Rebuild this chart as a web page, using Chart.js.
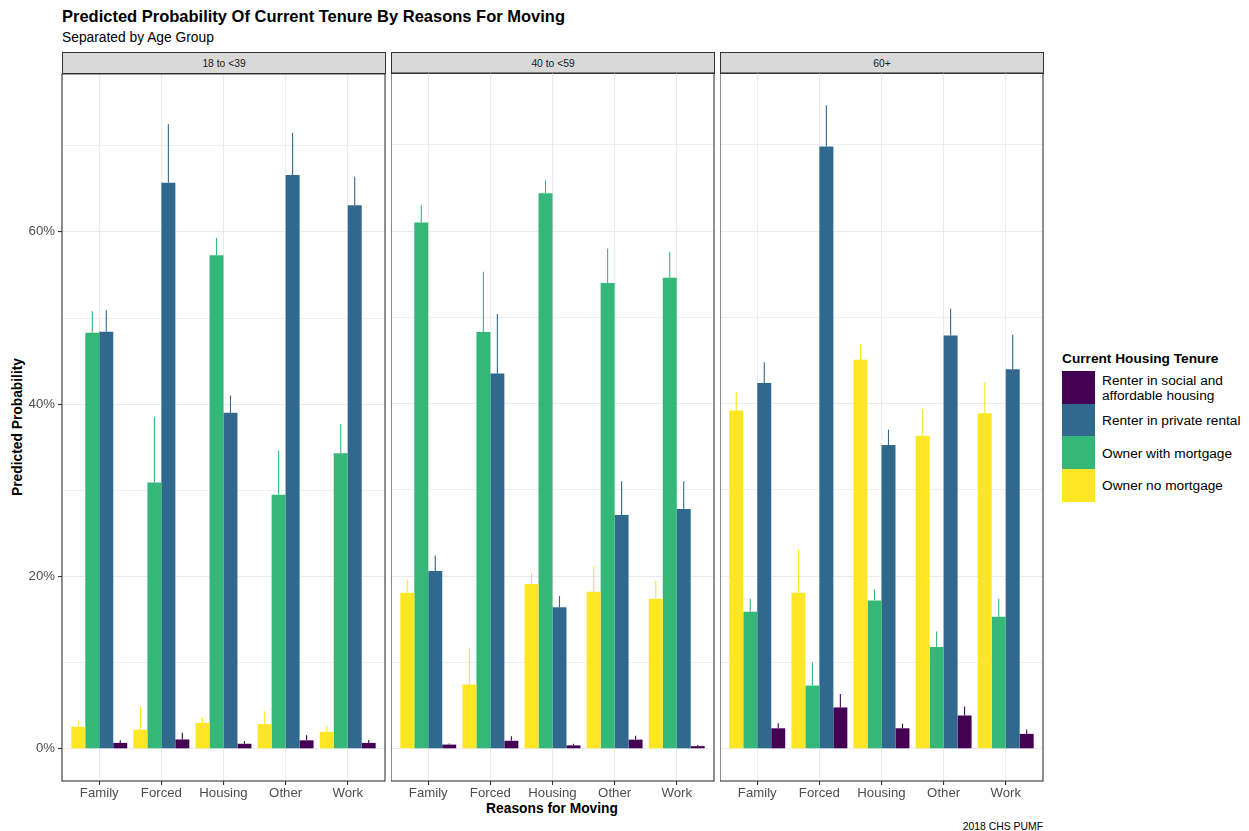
<!DOCTYPE html>
<html>
<head>
<meta charset="utf-8">
<script src="https://cdn.jsdelivr.net/npm/chart.js@4.4.1/dist/chart.umd.min.js"></script>
<style>
  html, body { margin: 0; padding: 0; background: #fff; }
  body { width: 1249px; height: 831px; position: relative; overflow: hidden;
         font-family: "Liberation Sans", Arial, Helvetica, sans-serif; color: #000; }
  .txt { position: absolute; white-space: nowrap; }
  canvas { position: absolute; }
  .strip { position: absolute; box-sizing: border-box; background: #D9D9D9;
           border: 1px solid #333; font-size: 10.3px; color: #1A1A1A;
           display: flex; align-items: center; justify-content: center; }
  .key { position: absolute; left: 1062px; width: 33px; height: 33px; }
  .klab { position: absolute; left: 1102px; font-size: 13.7px; line-height: 15px; color: #000; }
</style>
</head>
<body>
<div class="txt" style="left:62px; top:7px; font-size:16.5px; font-weight:bold;">Predicted Probability Of Current Tenure By Reasons For Moving</div>
<div class="txt" style="left:62px; top:30px; font-size:13.8px;">Separated by Age Group</div>
<div id="strips"></div>
<div class="txt" style="left:17px; top:427px; font-size:13.8px; font-weight:bold; transform:translate(-50%,-50%) rotate(-90deg);">Predicted Probability</div>
<div class="txt" style="left:552px; top:808px; font-size:13.8px; font-weight:bold; transform:translate(-50%,-50%);">Reasons for Moving</div>
<div class="txt" style="right:206px; top:821px; font-size:10.4px;">2018 CHS PUMF</div>
<div id="legend"></div>
<canvas id="p0"></canvas>
<canvas id="p1"></canvas>
<canvas id="p2"></canvas>
<script>
// Categories and facets
const reasons = ['Family', 'Forced', 'Housing', 'Other', 'Work'];
const ageGroups = ['18 to <39', '40 to <59', '60+'];
const tenures = ['Owner no mortgage', 'Owner with mortgage', 'Renter in private rental', 'Renter in social and affordable housing'];
const tenureColors = ['#FDE725', '#35B779', '#31688E', '#440154'];

// Predicted probability (%) and upper confidence bound, age 18 to <39
const noMortgage18 = [2.57, 2.23, 3.02, 2.87, 1.98];
const noMortgage18Upper = [3.27, 4.95, 3.66, 4.36, 2.72];
const withMortgage18 = [48.3, 30.9, 57.3, 29.5, 34.3];
const withMortgage18Upper = [50.8, 38.5, 59.3, 34.6, 37.7];
const privateRental18 = [48.4, 65.7, 39.0, 66.6, 63.1];
const privateRental18Upper = [50.9, 72.5, 41.0, 71.5, 66.4];
const socialHousing18 = [0.69, 1.09, 0.59, 0.99, 0.69];
const socialHousing18Upper = [1.0, 1.88, 0.89, 1.58, 1.04];

// Age 40 to <59
const noMortgage40 = [18.1, 7.45, 19.1, 18.2, 17.4];
const noMortgage40Upper = [19.6, 11.7, 20.4, 21.2, 19.5];
const withMortgage40 = [61.0, 48.3, 64.4, 54.0, 54.6];
const withMortgage40Upper = [63.0, 55.3, 65.9, 58.0, 57.6];
const privateRental40 = [20.6, 43.5, 16.4, 27.1, 27.8];
const privateRental40Upper = [22.4, 50.4, 17.7, 31.0, 31.0];
const socialHousing40 = [0.49, 0.93, 0.40, 1.06, 0.31];
const socialHousing40Upper = [0.62, 1.46, 0.58, 1.51, 0.44];

// Age 60+
const noMortgage60 = [39.2, 18.1, 45.1, 36.3, 38.9];
const noMortgage60Upper = [41.4, 23.1, 46.9, 39.4, 42.5];
const withMortgage60 = [15.9, 7.33, 17.2, 11.8, 15.3];
const withMortgage60Upper = [17.4, 10.0, 18.5, 13.6, 17.4];
const privateRental60 = [42.4, 69.8, 35.2, 47.9, 44.0];
const privateRental60Upper = [44.8, 74.6, 37.0, 51.0, 48.0];
const socialHousing60 = [2.38, 4.8, 2.38, 3.86, 1.73];
const socialHousing60Upper = [2.97, 6.34, 2.92, 4.9, 2.23];

// Y tick labels (every 20%), minor grid every 10%
const yTickValues = [0, 10, 20, 30, 40, 50, 60, 70];
const yTickLabels = ['0%', '', '20%', '', '40%', '', '60%', ''];

const panelSeries = [
  [noMortgage18, withMortgage18, privateRental18, socialHousing18],
  [noMortgage40, withMortgage40, privateRental40, socialHousing40],
  [noMortgage60, withMortgage60, privateRental60, socialHousing60]
];
const panelUpper = [
  [noMortgage18Upper, withMortgage18Upper, privateRental18Upper, socialHousing18Upper],
  [noMortgage40Upper, withMortgage40Upper, privateRental40Upper, socialHousing40Upper],
  [noMortgage60Upper, withMortgage60Upper, privateRental60Upper, socialHousing60Upper]
];

// Shared y range: data range [0, max upper] expanded by 5% on each side
const allUpper = panelUpper.flat(2);
const yMaxData = Math.max(...allUpper);
const yMin = -0.05 * yMaxData;
const yMax = yMaxData * 1.05;

// Panel geometry
const panelLefts = [62, 391, 720];
const panelTop = 73, panelW = 323, panelH = 708;
const axisW = 62, xAxisH = 26, padTop = 10, padRight = 6;

// Facet strips
const stripBox = document.getElementById('strips');
ageGroups.forEach((g, i) => {
  const d = document.createElement('div');
  d.className = 'strip';
  d.style.left = panelLefts[i] + 'px';
  d.style.top = '52px';
  d.style.width = (panelW + 1) + 'px';
  d.style.height = '22px';
  d.textContent = g;
  stripBox.appendChild(d);
});

// Legend (top to bottom: reversed stacking order)
const legend = document.getElementById('legend');
const lt = document.createElement('div');
lt.className = 'txt';
lt.style.cssText = 'left:1062px; top:351px; font-size:13.7px; font-weight:bold;';
lt.textContent = 'Current Housing Tenure';
legend.appendChild(lt);
const legendOrder = [3, 2, 1, 0];
const legendLabels = {
  3: ['Renter in social and', 'affordable housing'],
  2: ['Renter in private rental'],
  1: ['Owner with mortgage'],
  0: ['Owner no mortgage']
};
legendOrder.forEach((k, j) => {
  const top = 371 + j * 32.7;
  const key = document.createElement('div');
  key.className = 'key';
  key.style.top = top + 'px';
  key.style.height = '32.7px';
  key.style.background = tenureColors[k];
  legend.appendChild(key);
  const lab = document.createElement('div');
  lab.className = 'klab';
  const lines = legendLabels[k];
  lab.style.top = (top + 16.8 - lines.length * 7.5) + 'px';
  lab.innerHTML = lines.join('<br>');
  legend.appendChild(lab);
});

// Error bars: vertical line from bar top to upper bound, drawn beneath the bars
const errorBars = {
  id: 'errorBars',
  beforeDatasetsDraw(chart) {
    const ctx = chart.ctx, y = chart.scales.y;
    ctx.save();
    chart.data.datasets.forEach((ds, k) => {
      const meta = chart.getDatasetMeta(k);
      meta.data.forEach((bar, i) => {
        const top = y.getPixelForValue(ds.upper[i]);
        ctx.strokeStyle = ds.backgroundColor;
        ctx.lineWidth = 1.1;
        ctx.beginPath();
        ctx.moveTo(bar.x, bar.y);
        ctx.lineTo(bar.x, top);
        ctx.stroke();
      });
    });
    ctx.restore();
  }
};

// Panel frame
const panelFrame = {
  id: 'panelFrame',
  afterDraw(chart) {
    const a = chart.chartArea, ctx = chart.ctx;
    ctx.save();
    ctx.strokeStyle = '#333333';
    ctx.lineWidth = 1.1;
    ctx.strokeRect(a.left, a.top, a.right - a.left, a.bottom - a.top);
    ctx.restore();
  }
};

function makePanel(p) {
  const showY = p === 0;
  const yw = showY ? axisW : 0;
  const canvas = document.getElementById('p' + p);
  const w = yw + panelW + padRight;
  const h = padTop + panelH + xAxisH;
  canvas.width = w; canvas.height = h;
  canvas.style.width = w + 'px'; canvas.style.height = h + 'px';
  canvas.style.left = (panelLefts[p] - yw) + 'px';
  canvas.style.top = (panelTop - padTop) + 'px';

  const datasets = tenures.map((t, k) => ({
    label: t,
    data: panelSeries[p][k].map((v, i) => ({ x: i + 1, y: v })),
    upper: panelUpper[p][k],
    backgroundColor: tenureColors[k],
    borderWidth: 0
  }));

  new Chart(canvas, {
    type: 'bar',
    data: { datasets },
    options: {
      responsive: false,
      animation: false,
      layout: { padding: { top: padTop, right: padRight, bottom: 0, left: 0 } },
      plugins: { legend: { display: false }, tooltip: { enabled: false } },
      datasets: { bar: { categoryPercentage: 0.9, barPercentage: 1.0 } },
      scales: {
        x: {
          type: 'linear',
          min: 0.4, max: reasons.length + 0.6,
          offset: false,
          afterBuildTicks: s => { s.ticks = reasons.map((r, i) => ({ value: i + 1 })); },
          afterFit: s => { s.height = xAxisH; },
          ticks: {
            callback: v => reasons[v - 1] || '',
            color: '#4D4D4D',
            font: { family: '"Liberation Sans", Arial, sans-serif', size: 13.2 },
            padding: 0, maxRotation: 0, autoSkip: false
          },
          grid: { offset: false, color: '#EBEBEB', lineWidth: 1.1, tickColor: '#333333', tickLength: 4, drawTicks: true },
          border: { display: false }
        },
        y: {
          min: yMin, max: yMax,
          afterBuildTicks: s => { s.ticks = yTickValues.map(v => ({ value: v })); },
          afterFit: s => { s.width = yw; },
          ticks: {
            display: showY,
            callback: v => yTickLabels[yTickValues.indexOf(v)] || '',
            color: '#4D4D4D',
            font: { family: '"Liberation Sans", Arial, sans-serif', size: 13.2 },
            padding: 3
          },
          grid: {
            color: '#EBEBEB',
            lineWidth: ctx => (ctx.tick && ctx.tick.value % 20 === 0) ? 1.1 : 0.8,
            tickColor: ctx => (ctx.tick && ctx.tick.value % 20 === 0) ? '#333333' : 'rgba(0,0,0,0)',
            drawTicks: showY, tickLength: 4
          },
          border: { display: false }
        }
      }
    },
    plugins: [errorBars, panelFrame]
  });
}

[0, 1, 2].forEach(makePanel);
</script>
</body>
</html>
